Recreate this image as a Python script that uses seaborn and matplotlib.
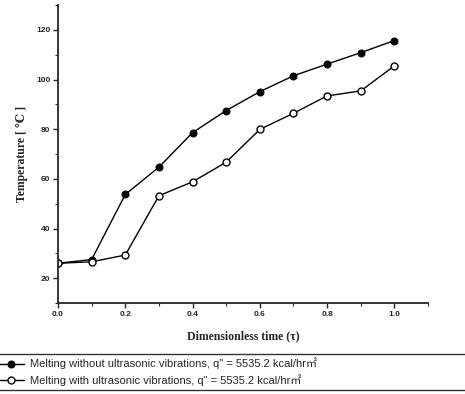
import matplotlib
matplotlib.use('Agg')
import matplotlib.pyplot as plt
import seaborn as sns
from matplotlib.ticker import MultipleLocator

# Data
tau = [0.0, 0.1, 0.2, 0.3, 0.4, 0.5, 0.6, 0.7, 0.8, 0.9, 1.0]
temp_without = [26.0, 27.5, 53.7, 64.7, 78.6, 87.5, 95.1, 101.5, 106.2, 110.8, 115.7]
temp_with = [26.0, 26.6, 29.3, 53.2, 58.8, 66.7, 79.9, 86.4, 93.4, 95.4, 105.5]

label_without = 'Melting without ultrasonic vibrations, q" = 5535.2 kcal/hr\u33a1'
label_with = 'Melting with ultrasonic vibrations, q" = 5535.2 kcal/hr\u33a1'

sns.set_style('ticks')
plt.rcParams['font.family'] = ['Liberation Sans', 'Noto Sans CJK JP', 'DejaVu Sans']

fig = plt.figure(figsize=(4.65, 3.94), dpi=100)
ax = fig.add_axes([58 / 465, 1 - 303 / 394, 370 / 465, 298 / 394])

sns.lineplot(x=tau, y=temp_without, ax=ax, color='black', linewidth=1.0,
             marker='o', markersize=5, markerfacecolor='black',
             markeredgecolor='black', label=label_without)
sns.lineplot(x=tau, y=temp_with, ax=ax, color='black', linewidth=1.0,
             marker='o', markersize=5, markerfacecolor='white',
             markeredgecolor='black', markeredgewidth=1.0, label=label_with)

ax.set_xlim(0, 1.1)
ax.set_ylim(10, 130)
ax.xaxis.set_minor_locator(MultipleLocator(0.1))
ax.yaxis.set_minor_locator(MultipleLocator(10))
ax.set_yticks([20, 40, 60, 80, 100, 120])
ax.set_xticks([0.0, 0.2, 0.4, 0.6, 0.8, 1.0])
ax.set_xticklabels(['0.0', '0.2', '0.4', '0.6', '0.8', '1.0'])

for side in ['top', 'right']:
    ax.spines[side].set_visible(False)
for side in ['left', 'bottom']:
    ax.spines[side].set_linewidth(1.3)
ax.tick_params(which='major', direction='out', length=3.5, width=1.0,
               labelsize=6, pad=2)
ax.tick_params(which='minor', direction='out', length=2, width=0.8)
for lab in ax.get_xticklabels() + ax.get_yticklabels():
    lab.set_fontweight('bold')

ax.set_xlabel('Dimensionless time (\u03c4)', family=['Liberation Serif', 'DejaVu Serif'],
              fontsize=8.5, fontweight='bold', labelpad=9)
ax.set_ylabel('Temperature [ \u2103 ]', family=['Liberation Serif', 'DejaVu Serif'],
              fontsize=8.5, fontweight='bold', labelpad=6)

handles, labels = ax.get_legend_handles_labels()
ax.get_legend().remove()
leg = fig.legend(handles, labels, loc='lower left',
                 bbox_to_anchor=(-0.01, 0.01, 1.02, 0.1), mode='expand',
                 fontsize=8, frameon=True, fancybox=False, handlelength=2.2,
                 handletextpad=0.6, borderpad=0.35, labelspacing=0.45,
                 borderaxespad=0)
leg.get_frame().set_edgecolor('black')
leg.get_frame().set_linewidth(1.0)

fig.savefig('out.png', dpi=100)
